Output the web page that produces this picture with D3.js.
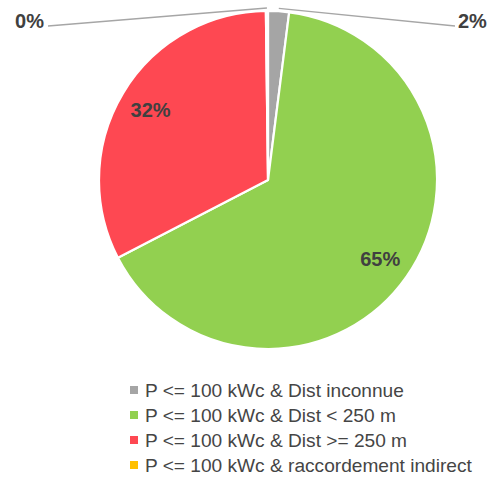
<!DOCTYPE html>
<html>
<head>
<meta charset="utf-8">
<script src="https://cdn.jsdelivr.net/npm/d3@7"></script>
<style>
  html, body { margin: 0; padding: 0; background: #fff; }
  svg { display: block; }
  text { font-family: "Liberation Sans", Arial, sans-serif; }
</style>
</head>
<body>
<svg id="chart" width="492" height="480"></svg>
<script>
// Share of installations (P <= 100 kWc) by connection distance
const categories = [
  "P <= 100 kWc & Dist inconnue",
  "P <= 100 kWc & Dist < 250 m",
  "P <= 100 kWc & Dist >= 250 m",
  "P <= 100 kWc & raccordement indirect"
];
const values = [2.0, 65.4, 32.4, 0.2];
const colors = ["#a5a5a5", "#92d050", "#fe4852", "#ffc000"];

const svg = d3.select("#chart");
const cx = 268, cy = 180, radius = 169;

const total = d3.sum(values);
const pct = v => Math.round(v / total * 100) + "%";

const data = categories.map((c, i) => ({ name: c, value: values[i], color: colors[i], idx: i }));

const pie = d3.pie().value(d => d.value).sort(null);
const arcs = pie(data);

const arc = d3.arc().innerRadius(0).outerRadius(radius);
const labelArc = d3.arc().innerRadius(radius * 0.81).outerRadius(radius * 0.81);
const edgeArc = d3.arc().innerRadius(radius + 3).outerRadius(radius + 3);

const g = svg.append("g").attr("transform", `translate(${cx},${cy})`);

g.selectAll("path.slice")
  .data(arcs)
  .join("path")
  .attr("class", "slice")
  .attr("d", arc)
  .attr("fill", d => d.data.color)
  .attr("stroke", "#fff")
  .attr("stroke-width", 2.2)
  .attr("stroke-linejoin", "round");

// Large slices: labels inside
const big = arcs.filter(d => d.data.value / total >= 0.1);
g.selectAll("text.inner")
  .data(big)
  .join("text")
  .attr("class", "inner")
  .attr("transform", d => `translate(${labelArc.centroid(d)})`)
  .attr("text-anchor", "middle")
  .attr("dy", "0.36em")
  .attr("font-size", 20)
  .attr("font-weight", "bold")
  .attr("fill", "#404040")
  .text(d => pct(d.data.value));

// Small slices: labels outside with leader lines
const small = arcs.filter(d => d.data.value / total < 0.1);
const labelY = -radius + 10;
small.forEach(d => {
  const mid = (d.startAngle + d.endAngle) / 2;
  const right = mid < Math.PI;
  const lx = right ? 187 : -220;
  const [ex, ey] = edgeArc.centroid(d);
  g.append("line")
    .attr("x1", ex).attr("y1", ey)
    .attr("x2", lx).attr("y2", labelY + 5)
    .attr("stroke", "#a6a6a6")
    .attr("stroke-width", 1.3);
  g.append("text")
    .attr("x", right ? lx + 3 : lx - 4)
    .attr("y", labelY)
    .attr("dy", "0.36em")
    .attr("text-anchor", right ? "start" : "end")
    .attr("font-size", 20)
    .attr("font-weight", "bold")
    .attr("fill", "#404040")
    .text(pct(d.data.value));
});

// Legend
const legend = svg.append("g").attr("transform", "translate(130,390)");
const rows = legend.selectAll("g.row")
  .data(data)
  .join("g")
  .attr("class", "row")
  .attr("transform", (d, i) => `translate(0,${i * 25})`);

rows.append("rect")
  .attr("x", 0).attr("y", -4)
  .attr("width", 8).attr("height", 8)
  .attr("fill", d => d.color);

rows.append("text")
  .attr("x", 15)
  .attr("dy", "0.36em")
  .attr("font-size", 16)
  .attr("fill", "#454545")
  .text(d => d.name);

// fit the legend text to its line length
const longest = d3.max(rows.selectAll("text").nodes(), n => n.getComputedTextLength());
const fs = 16 * 327 / longest;
rows.selectAll("text").attr("font-size", fs);
</script>
</body>
</html>
